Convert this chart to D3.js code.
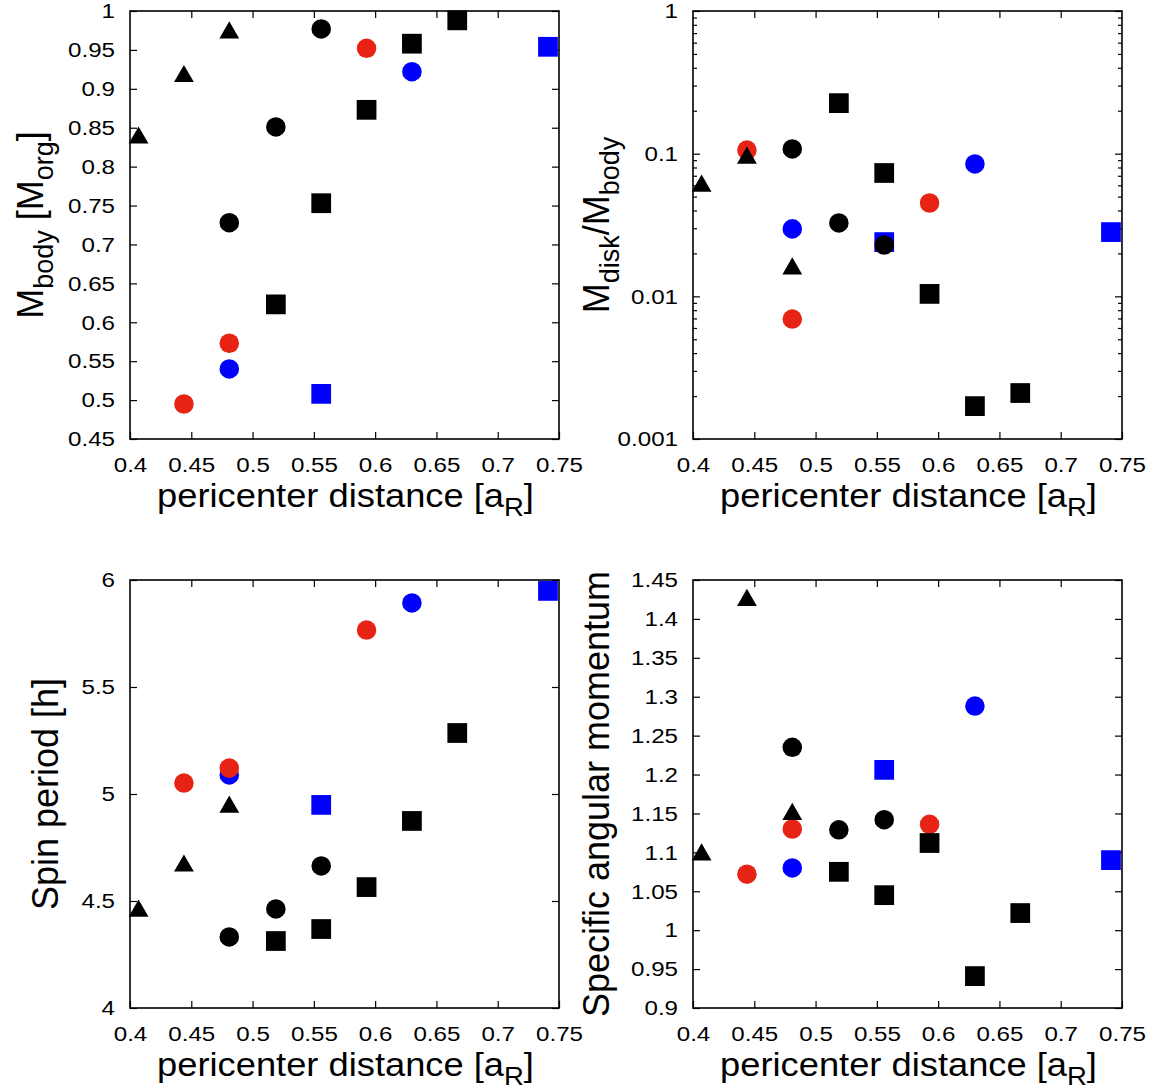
<!DOCTYPE html>
<html lang="en">
<head>
<meta charset="utf-8">
<title>pericenter distance</title>
<script src="https://cdnjs.cloudflare.com/ajax/libs/d3/7.8.5/d3.min.js"></script>
<style>
  body { margin: 0; background: #fff; }
  svg text { font-family: "Liberation Sans", Arial, sans-serif; fill: #000; }
</style>
</head>
<body>
<div id="chart"></div>
<script>
// pericenter distances of each run group
var xTri = [0.407, 0.444, 0.481];
var xBlackCircle = [0.481, 0.519, 0.556];
var xBlackSquare = [0.519, 0.556, 0.593, 0.630, 0.667];
var xRedCircle = [0.444, 0.481, 0.593];
var xBlueCircle = [0.481, 0.630];
var xBlueSquare = [0.556, 0.741];

// M_body [M_org]
var bodyTri = [0.837, 0.916, 0.972];
var bodyBlackCircle = [0.728, 0.851, 0.977];
var bodyBlackSquare = [0.623, 0.753, 0.873, 0.958, 0.988];
var bodyRedCircle = [0.495, 0.573, 0.952];
var bodyBlueCircle = [0.540, 0.922];
var bodyBlueSquare = [0.508, 0.954];

// M_disk / M_body
var diskTri = [0.0593, 0.0933, 0.0156];
var diskBlackCircle = [0.108, 0.0327, 0.0229];
var diskBlackSquare = [0.226, 0.0732, 0.0104, 0.0017, 0.0021];
var diskRedCircle = [0.106, 0.00693, 0.0451];
var diskBlueCircle = [0.0297, 0.0847];
var diskBlueSquare = [0.0240, 0.0282];

// spin period [h]
var spinTri = [4.453, 4.664, 4.939];
var spinBlackCircle = [4.332, 4.463, 4.664];
var spinBlackSquare = [4.313, 4.369, 4.565, 4.874, 5.285];
var spinRedCircle = [5.051, 5.121, 5.766];
var spinBlueCircle = [5.089, 5.893];
var spinBlueSquare = [4.949, 5.949];

// specific angular momentum
var angTri = [1.097, 1.424, 1.149];
var angBlackCircle = [1.235, 1.129, 1.142];
var angBlackSquare = [1.075, 1.045, 1.112, 0.941, 1.022];
var angRedCircle = [1.072, 1.130, 1.136];
var angBlueCircle = [1.080, 1.288];
var angBlueSquare = [1.206, 1.090];

var xTicks = [0.4, 0.45, 0.5, 0.55, 0.6, 0.65, 0.7, 0.75];
var bodyTicks = [0.45, 0.5, 0.55, 0.6, 0.65, 0.7, 0.75, 0.8, 0.85, 0.9, 0.95, 1];
var diskTicks = [0.001, 0.01, 0.1, 1];
var diskTickLabels = ["0.001", "0.01", "0.1", "1"];
var spinTicks = [4, 4.5, 5, 5.5, 6];
var angTicks = [0.9, 0.95, 1, 1.05, 1.1, 1.15, 1.2, 1.25, 1.3, 1.35, 1.4, 1.45];

var red = "#e62314", blue = "#0000ff", black = "#000000";

var width = 1156, height = 1091;
var svg = d3.select("#chart").append("svg")
    .attr("width", width).attr("height", height);

var panels = [
  { left: 130, top: 11, log: false, domain: [0.45, 1], ticks: bodyTicks, labels: null,
    title: [["M", 0], ["body", 1], [" [M", 0], ["org", 1], ["]", 0]], titleX: 43,
    ys: [bodyBlueSquare, bodyBlueCircle, bodyRedCircle, bodyBlackSquare, bodyBlackCircle, bodyTri] },
  { left: 693, top: 11, log: true, domain: [0.001, 1], ticks: diskTicks, labels: diskTickLabels,
    title: [["M", 0], ["disk", 1], ["/M", 0], ["body", 1]], titleX: 609,
    ys: [diskBlueSquare, diskBlueCircle, diskRedCircle, diskBlackSquare, diskBlackCircle, diskTri] },
  { left: 130, top: 580, log: false, domain: [4, 6], ticks: spinTicks, labels: null,
    title: [["Spin period [h]", 0]], titleX: 58,
    ys: [spinBlueSquare, spinBlueCircle, spinRedCircle, spinBlackSquare, spinBlackCircle, spinTri] },
  { left: 693, top: 580, log: false, domain: [0.9, 1.45], ticks: angTicks, labels: null,
    title: [["Specific angular momentum", 0]], titleX: 609,
    ys: [angBlueSquare, angBlueCircle, angRedCircle, angBlackSquare, angBlackCircle, angTri] }
];

// draw order: blue squares, blue circles, red circles, black squares, black circles, triangles
var seriesX = [xBlueSquare, xBlueCircle, xRedCircle, xBlackSquare, xBlackCircle, xTri];
var seriesColor = [blue, blue, red, black, black, black];
var seriesSymbol = [
  d3.symbol(d3.symbolSquare, 390),
  d3.symbol(d3.symbolCircle, 300),
  d3.symbol(d3.symbolCircle, 300),
  d3.symbol(d3.symbolSquare, 390),
  d3.symbol(d3.symbolCircle, 300),
  d3.symbol(d3.symbolTriangle, 170)
];

var pw = 429, ph = 428;
var stretch = 1.15;  // tick text in the original is a bit wide

panels.forEach(function(p) {
  var g = svg.append("g").attr("transform", "translate(" + p.left + "," + p.top + ")");

  var x = d3.scaleLinear().domain([0.4, 0.75]).range([0, pw]);
  var y = p.log ? d3.scaleLog().domain(p.domain).range([ph, 0])
                : d3.scaleLinear().domain(p.domain).range([ph, 0]);

  // bottom axis with labels, ticks pointing in
  var xb = g.append("g").attr("transform", "translate(0," + ph + ")")
    .call(d3.axisBottom(x).tickValues(xTicks).tickFormat(function(d) { return d; })
      .tickSizeInner(-7).tickSizeOuter(0).tickPadding(18));
  xb.selectAll("text").attr("transform", "scale(" + stretch + ",1)");
  g.append("g")
    .call(d3.axisTop(x).tickValues(xTicks.slice(1, -1)).tickFormat("")
      .tickSizeInner(-7).tickSizeOuter(0));

  var yfmt = p.labels ? function(d, i) { return p.labels[i]; } : function(d) { return d; };
  var yl = g.append("g")
    .call(d3.axisLeft(y).tickValues(p.ticks).tickFormat(yfmt)
      .tickSizeInner(-7).tickSizeOuter(0).tickPadding(15));
  yl.selectAll("text").attr("x", -15 / stretch).attr("transform", "scale(" + stretch + ",1)");
  g.append("g").attr("transform", "translate(" + pw + ",0)")
    .call(d3.axisRight(y).tickValues(p.ticks).tickFormat("")
      .tickSizeInner(-7).tickSizeOuter(0));

  if (p.log) {
    var minor = [];
    [0.001, 0.01, 0.1].forEach(function(dec) {
      for (var k = 2; k <= 9; k++) minor.push(dec * k);
    });
    g.append("g").call(d3.axisLeft(y).tickValues(minor).tickFormat("")
      .tickSizeInner(-4).tickSizeOuter(0));
    g.append("g").attr("transform", "translate(" + pw + ",0)")
      .call(d3.axisRight(y).tickValues(minor).tickFormat("")
        .tickSizeInner(-4).tickSizeOuter(0));
  }

  g.selectAll(".domain").remove();
  g.selectAll(".tick line").attr("stroke", "#000").attr("stroke-width", 1.2);
  g.selectAll(".tick text").attr("font-size", "21px")
    .style("font-family", "'Liberation Sans', Arial, sans-serif");

  g.append("rect").attr("width", pw).attr("height", ph)
    .attr("fill", "none").attr("stroke", "#000").attr("stroke-width", 1.6);

  // markers
  seriesX.forEach(function(xs, s) {
    var ys = p.ys[s];
    g.selectAll(null).data(xs).enter().append("path")
      .attr("d", seriesSymbol[s])
      .attr("transform", function(d, i) { return "translate(" + x(d) + "," + y(ys[i]) + ")"; })
      .attr("fill", seriesColor[s]);
  });

  // x title
  var xt = g.append("g").attr("transform", "translate(" + (pw / 2 + 1) + "," + (ph + 68) + ")")
    .append("text").attr("transform", "scale(1.1,1)")
    .attr("text-anchor", "middle").attr("font-size", "33px");
  xt.append("tspan").text("pericenter distance [a");
  xt.append("tspan").text("R").attr("font-size", "25px").attr("dy", 9);
  xt.append("tspan").text("]").attr("dy", -9);

  // y title
  var yt = svg.append("text")
    .attr("transform", "translate(" + p.titleX + "," + (p.top + ph / 2) + ") rotate(-90)")
    .attr("text-anchor", "middle").attr("font-size", "36px");
  var shift = 0;
  p.title.forEach(function(part) {
    var t = yt.append("tspan").text(part[0]);
    if (part[1] && shift === 0) { t.attr("font-size", "27px").attr("dy", 10); shift = 10; }
    else if (!part[1] && shift !== 0) { t.attr("dy", -10); shift = 0; }
    else if (part[1]) { t.attr("font-size", "27px"); }
  });
});
</script>
</body>
</html>
